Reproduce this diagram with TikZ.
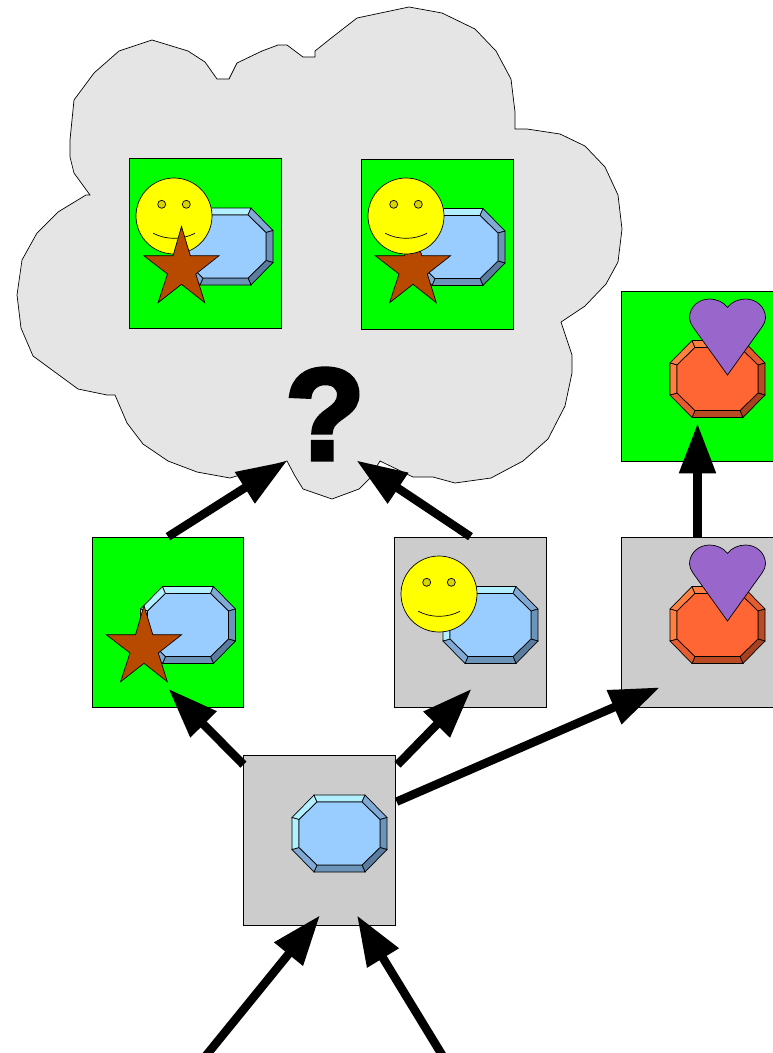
\documentclass[tikz,border=0pt]{standalone}
\usepackage{fontspec}
\usepackage{xcolor}
\usepackage{tikz}
\usetikzlibrary{arrows.meta}
\newfontfamily\markfont[BoldFeatures={FakeBold=3.5}]{Liberation Sans}
\definecolor{blueface}{HTML}{99CCFF}
\definecolor{bluelight}{HTML}{B3F0FF}
\definecolor{bluemid}{HTML}{80AAD5}
\definecolor{bluedark}{HTML}{6C93B8}
\definecolor{bluedeep}{HTML}{5A7C9E}
\definecolor{orangeface}{HTML}{FF6633}
\definecolor{orangelight}{HTML}{FF8040}
\definecolor{orangemid}{HTML}{E65C2E}
\definecolor{orangedark}{HTML}{B84A24}
\definecolor{orangedeep}{HTML}{A64220}
\definecolor{cloudgray}{HTML}{E5E5E5}
\definecolor{boxgreen}{HTML}{00FF00}
\definecolor{boxgray}{HTML}{CCCCCC}
\definecolor{starbrown}{HTML}{B84A00}
\definecolor{heartpurple}{HTML}{9966CC}
\definecolor{smileyellow}{HTML}{FFFF00}
\definecolor{eyeyellow}{HTML}{D9D500}

\begin{document}
\begin{tikzpicture}[
  x=1pt,y=-1pt,
  line width=0.7pt,
  framebox/.style={draw,rectangle,inner sep=0pt,minimum width=151.5pt,minimum height=170pt},
  greenbox/.style={framebox,fill=boxgreen},
  graybox/.style={framebox,fill=boxgray},
  fatarrow/.style={line width=8.5pt,-{Triangle[length=50pt,width=35pt]}},
  octo/.pic={
    \filldraw[fill=#1light] (-47.5,-16) -- (-25.5,-38.5) -- (-22.5,-31.5) -- (-40.5,-14) -- cycle;
    \filldraw[fill=#1light] (-25.5,-38.5) -- (25.5,-38.5) -- (22.5,-31.5) -- (-22.5,-31.5) -- cycle;
    \filldraw[fill=#1mid] (25.5,-38.5) -- (47.5,-16) -- (40.5,-14) -- (22.5,-31.5) -- cycle;
    \filldraw[fill=#1dark] (47.5,-16) -- (47.5,16) -- (40.5,14) -- (40.5,-14) -- cycle;
    \filldraw[fill=#1deep] (47.5,16) -- (25.5,38.5) -- (22.5,31.5) -- (40.5,14) -- cycle;
    \filldraw[fill=#1dark] (25.5,38.5) -- (-25.5,38.5) -- (-22.5,31.5) -- (22.5,31.5) -- cycle;
    \filldraw[fill=#1mid] (-25.5,38.5) -- (-47.5,16) -- (-40.5,14) -- (-22.5,31.5) -- cycle;
    \filldraw[fill=#1light] (-47.5,16) -- (-47.5,-16) -- (-40.5,-14) -- (-40.5,14) -- cycle;
    \filldraw[fill=#1face] (-40.5,-14) -- (-22.5,-31.5) -- (22.5,-31.5) -- (40.5,-14) -- (40.5,14) -- (22.5,31.5) -- (-22.5,31.5) -- (-40.5,14) -- cycle;
  },
  smiley/.pic={
    \filldraw[fill=smileyellow] (0,0) circle (38);
    \filldraw[fill=eyeyellow] (-12.3,-11.7) circle (4);
    \filldraw[fill=eyeyellow] (12.3,-11.7) circle (4);
    \draw (-20.7,17.3) .. controls (-8,24) and (8,24) .. (21,17.3);
  },
  starshape/.pic={
    \filldraw[fill=starbrown] (0,-39.5) -- (8.8,-10.3) -- (37.6,-10.3) -- (14.3,8) -- (23.3,36.7) -- (0,18.3) -- (-23.4,36.7) -- (-14,8) -- (-37.7,-10.3) -- (-8.4,-10.3) -- cycle;
  },
  heartshape/.pic={
    \filldraw[fill=heartpurple] (0,38) -- (-34.5,-10) .. controls (-36.5,-13) and (-38,-16) .. (-38,-19)
      .. controls (-38,-30) and (-29,-38) .. (-18,-38) .. controls (-11,-38) and (-4,-35) .. (0,-29.7)
      .. controls (4,-35) and (11,-38) .. (18,-38) .. controls (29,-38) and (38,-30) .. (38,-19)
      .. controls (38,-16) and (36.5,-13) .. (34.5,-10) -- cycle;
  }
]
  \useasboundingbox (0,0) rectangle (773,1053);
  \draw[fill=cloudgray] (152,40) -- (188,51) -- (205,62) -- (217,79) -- (229,79) -- (237,63) -- (262,51) -- (278,45)
    -- (287,45) -- (303,57) -- (315,57) -- (315,51) -- (330,39) -- (357,18) -- (409,7) -- (442,13) -- (475,29)
    -- (496,51) -- (511,79) -- (515,112) -- (515,129) -- (527,129) -- (560,134) -- (585,146) -- (605,167)
    -- (618,195) -- (622,229) -- (618,262) -- (606,284) -- (585,306) -- (561,322) -- (572,355) -- (572,373)
    -- (565,406) -- (548,439) -- (523,461) -- (491,478) -- (455,483) -- (433,477) -- (413,477) -- (380,461)
    -- (370,478) -- (359,489) -- (332,499) -- (303,489) -- (295,476) -- (287,461) -- (230,478) -- (197,472)
    -- (168,461) -- (143,444) -- (127,423) -- (115,395) -- (107,395) -- (78,389) -- (33,356) -- (21,328)
    -- (17,295) -- (22,260) -- (37,233) -- (58,212) -- (86,195) -- (90,195) -- (74,173) -- (70,157) -- (70,140)
    -- (74,100) -- (94,73) -- (119,51) -- cycle;

  \node[greenbox] (mergeleft) at (205.5,243.5) {};
  \node[greenbox] (mergeright) at (437.5,244) {};
  \node[greenbox] (heartgreen) at (697.5,376) {};
  \node[greenbox] (stargreen) at (168,622) {};
  \node[graybox] (smilegray) at (470.5,622) {};
  \node[graybox] (heartgray) at (697.5,622) {};
  \node[graybox] (basegray) at (319.5,840) {};
  \node[font=\markfont\bfseries\fontsize{130}{130}\selectfont,inner sep=0pt] (question) at (325,414) {?};

  \pic at ([shift={(20,3)}]mergeleft) {octo=blue};
  \pic at ([shift={(-31.5,-27.5)}]mergeleft) {smiley};
  \pic at ([shift={(-24,22.5)}]mergeleft) {starshape};
  \pic at ([shift={(20,3)}]mergeright) {octo=blue};
  \pic at ([shift={(-24.5,22)}]mergeright) {starshape};
  \pic at ([shift={(-31.5,-28)}]mergeright) {smiley};
  \pic at ([shift={(20,3)}]heartgreen) {octo=orange};
  \pic at ([shift={(30,-39)}]heartgreen) {heartshape};
  \pic at ([shift={(20,3)}]stargreen) {octo=blue};
  \pic at ([shift={(-24,23)}]stargreen) {starshape};
  \pic at ([shift={(20,3)}]smilegray) {octo=blue};
  \pic at ([shift={(-31.5,-28)}]smilegray) {smiley};
  \pic at ([shift={(20,3)}]heartgray) {octo=orange};
  \pic at ([shift={(30,-39)}]heartgray) {heartshape};
  \pic at ([shift={(20,-6.5)}]basegray) {octo=blue};

  \coordinate (cloudleft) at (287,461);
  \coordinate (cloudright) at (356.5,460.5);
  \coordinate (inleft) at (200,1063);
  \coordinate (inright) at (447,1063);

  \draw[fatarrow] (stargreen.north) -- (cloudleft);
  \draw[fatarrow] (smilegray.north) -- (cloudright);
  \draw[fatarrow] (heartgray.north) -- ([yshift=38pt]heartgreen.south);
  \draw[fatarrow] ([yshift=-10pt]basegray.north west) -- ([xshift=0.5pt,yshift=18.5pt]stargreen.south);
  \draw[fatarrow] ([xshift=2pt,yshift=-10pt]basegray.north east) -- ([xshift=1pt,yshift=18.5pt]smilegray.south);
  \draw[fatarrow] ([xshift=1pt,yshift=-47pt]basegray.north east) -- ([xshift=38.5pt,yshift=20pt]heartgray.south west);
  \draw[fatarrow] (inleft) -- ([xshift=0.5pt,yshift=10pt]basegray.south);
  \draw[fatarrow] (inright) -- ([xshift=37.5pt,yshift=10pt]basegray.south);
\end{tikzpicture}
\end{document}
